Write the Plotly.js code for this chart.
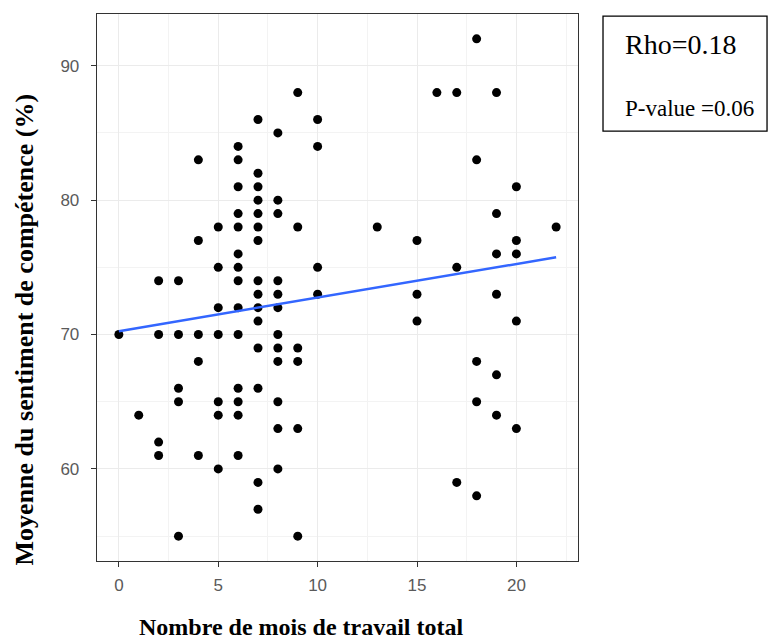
<!DOCTYPE html>
<html>
<head>
<meta charset="utf-8">
<script src="https://cdn.plot.ly/plotly-3.0.1.min.js"></script>
<style>html,body{margin:0;padding:0;background:#fff;}#chart{width:770px;height:639px;}</style>
</head>
<body>
<div id="chart"></div>
<script>
// Data: months of work (x) and mean competence score (y)
const moisTravail = [
  0,
  1,
  2,2,2,2,
  3,3,3,3,3,
  4,4,4,4,4,
  5,5,5,5,5,5,5,
  6,6,6,6,6,6,6,6,6,6,6,6,6,6,
  7,7,7,7,7,7,7,7,7,7,7,7,7,7,7,
  8,8,8,8,8,8,8,8,8,8,8,8,
  9,9,9,9,9,9,
  10,10,10,10,
  13,
  15,15,15,
  16,
  17,17,17,
  18,18,18,18,18,
  19,19,19,19,19,19,
  20,20,20,20,20,
  22
];
const competence = [
  70,
  64,
  74,70,62,61,
  74,70,66,65,55,
  83,77,70,68,61,
  78,75,72,70,65,64,60,
  84,83,81,79,78,76,75,74,72,70,66,65,64,61,
  86,82,81,80,79,78,77,74,73,72,71,69,66,59,57,
  85,80,79,74,73,72,70,69,68,65,63,60,
  88,78,69,68,63,55,
  86,84,75,73,
  78,
  77,73,71,
  88,
  88,75,59,
  92,83,68,65,58,
  88,79,76,73,67,64,
  81,77,76,71,63,
  78
];
// Fitted (lm) line as drawn in the reference, read at both ends
const fitX = [0, 22];
const fitY = [70.25, 75.75];
const xTicks = [0, 5, 10, 15, 20];
const yTicks = [60, 70, 80, 90];
const xTitle = 'Nombre de mois de travail total';
const yTitle = 'Moyenne du sentiment de compétence (%)';
const rhoText = "Rho=0.18";
const pText = "P-value =0.06";

const traces = [
  { x: moisTravail, y: competence, type: 'scatter', mode: 'markers',
    marker: { color: '#000000', size: 9 }, hoverinfo: 'x+y', showlegend: false },
  { x: fitX, y: fitY, type: 'scatter', mode: 'lines',
    line: { color: '#3366FF', width: 2.5 }, showlegend: false }
];

const serif = 'Liberation Serif, Times New Roman, serif';
const gridCol = '#ebebeb';
const tickFont = { family: 'Liberation Sans, Arial, sans-serif', size: 17, color: '#5a5a5a' };
const layout = {
  width: 770, height: 639,
  margin: { l: 97, r: 192, t: 14, b: 78 },
  paper_bgcolor: '#ffffff', plot_bgcolor: '#ffffff',
  showlegend: false,
  xaxis: {
    range: [-1.1, 23.1], tickvals: xTicks, ticktext: xTicks.map(String),
    ticks: 'outside', ticklen: 5, tickcolor: '#333333', tickwidth: 1,
    showgrid: true, gridcolor: gridCol, gridwidth: 1,
    minor: { dtick: 2.5, tick0: 0, showgrid: true, gridcolor: '#f3f3f3', gridwidth: 1, ticks: '' },
    zeroline: false, showline: true, linecolor: '#333333', linewidth: 1.3, mirror: true,
    tickfont: tickFont, ticklabelstandoff: 3
  },
  yaxis: {
    range: [53.15, 93.85], tickvals: yTicks, ticktext: yTicks.map(String),
    ticks: 'outside', ticklen: 5, tickcolor: '#333333', tickwidth: 1,
    showgrid: true, gridcolor: gridCol, gridwidth: 1,
    minor: { dtick: 5, tick0: 55, showgrid: true, gridcolor: '#f3f3f3', gridwidth: 1, ticks: '' },
    zeroline: false, showline: true, linecolor: '#333333', linewidth: 1.3, mirror: true,
    tickfont: tickFont, ticklabelstandoff: 8
  },
  shapes: [
    { type: 'rect', xref: 'paper', yref: 'paper', x0: 1.052, x1: 1.393, y0: 0.786, y1: 0.996,
      line: { color: '#000000', width: 1.3 }, fillcolor: 'rgba(0,0,0,0)' }
  ],
  annotations: [
    { xref: 'paper', yref: 'paper', x: 0.426, y: -0.1207, xanchor: 'center', yanchor: 'middle',
      text: xTitle, showarrow: false,
      font: { family: serif, size: 24, color: '#000000', weight: 'bold' } },
    { xref: 'paper', yref: 'paper', x: -0.151, y: 0.424, xanchor: 'center', yanchor: 'middle',
      text: yTitle, showarrow: false, textangle: -90,
      font: { family: serif, size: 26, color: '#000000', weight: 'bold' } },
    { xref: 'paper', yref: 'paper', x: 1.0936, y: 0.945, xanchor: 'left', yanchor: 'middle',
      text: rhoText, showarrow: false,
      font: { family: serif, size: 28, color: '#000000' } },
    { xref: 'paper', yref: 'paper', x: 1.0936, y: 0.828, xanchor: 'left', yanchor: 'middle',
      text: pText, showarrow: false,
      font: { family: serif, size: 23, color: '#000000' } }
  ]
};

Plotly.newPlot('chart', traces, layout, { displayModeBar: false, staticPlot: true });
</script>
</body>
</html>
